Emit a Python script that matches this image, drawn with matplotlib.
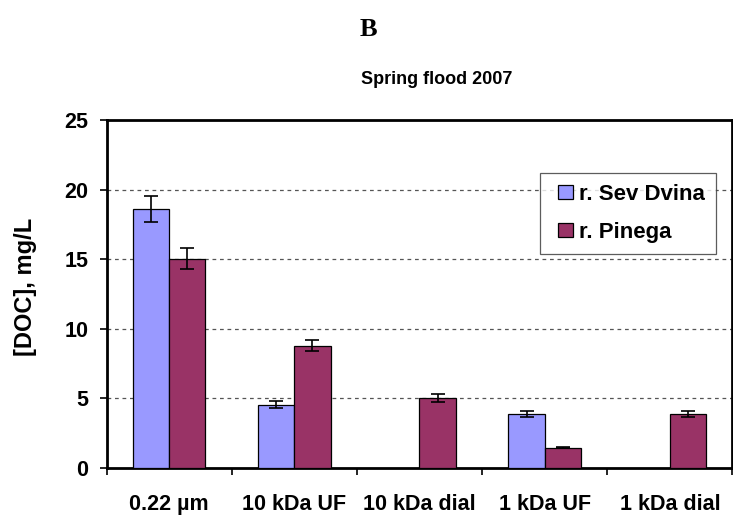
import numpy as np
import matplotlib
matplotlib.use("Agg")
import matplotlib.pyplot as plt
from matplotlib.patches import Rectangle
from matplotlib.legend_handler import HandlerPatch

categorias = ['0.22 µm', '10 kDa UF', '10 kDa dial', '1 kDa UF', '1 kDa dial']
series = ['r. Sev Dvina', 'r. Pinega']
sev_dvina = [18.6, 4.55, np.nan, 3.85, np.nan]
sev_dvina_err = [0.93, 0.27, np.nan, 0.22, np.nan]
pinega = [15.05, 8.8, 5.0, 1.45, 3.85]
pinega_err = [0.73, 0.4, 0.29, 0.04, 0.22]
cores = ['#9999FF', '#993366']

plt.rcParams['font.family'] = ['Liberation Sans', 'DejaVu Sans']
plt.rcParams['font.weight'] = 'bold'


def quadrado(legend, orig_handle, xdescent, ydescent, width, height, fontsize):
    # quadradinho encostado a direita da caixa do handle
    return Rectangle((width - height - xdescent, -ydescent), height, height)


fig = plt.figure(figsize=(7.33, 5.18), dpi=100)
ax = fig.add_axes([0.1453, 0.0965, 0.854, 0.6718])

x = np.arange(len(categorias))
w = 0.29
b1 = ax.bar(x - w / 2, sev_dvina, w, yerr=sev_dvina_err, color=cores[0],
            edgecolor='black', linewidth=0.9, label=series[0], zorder=3,
            error_kw=dict(ecolor='black', elinewidth=1.2, capsize=5, capthick=1.2))
b2 = ax.bar(x + w / 2, pinega, w, yerr=pinega_err, color=cores[1],
            edgecolor='black', linewidth=0.9, label=series[1], zorder=3,
            error_kw=dict(ecolor='black', elinewidth=1.2, capsize=5, capthick=1.2))

ax.set_xlim(-0.5, len(categorias) - 0.5)
ax.set_ylim(0, 25)
ax.set_yticks([0, 5, 10, 15, 20, 25])
ax.set_xticks(x)
ax.set_xticklabels(categorias, fontsize=15.5, fontweight='bold')
ax.set_xticks(np.arange(-0.5, len(categorias)), minor=True)
ax.tick_params(axis='x', which='major', length=0, pad=19)
ax.tick_params(axis='x', which='minor', length=5, width=1.2, direction='out')
ax.tick_params(axis='y', length=5, width=1.2, direction='out', pad=8, labelsize=15.5)
for lbl in ax.get_yticklabels():
    lbl.set_fontweight('bold')

for yv in [5, 10, 15, 20]:
    ax.axhline(yv, color='#555555', linestyle=(0, (3, 3)), linewidth=0.9, zorder=1)

for s in ax.spines.values():
    s.set_linewidth(2)

ax.set_ylabel('[DOC], mg/L', fontsize=17, fontweight='bold')
ax.yaxis.set_label_coords(-0.130, 0.52)
ax.yaxis.label.set_va('center')

fig.text(0.503, 0.944, 'B', fontsize=19, fontweight='bold', ha='center', va='center',
         family=['Liberation Serif', 'DejaVu Serif'])
fig.text(0.596, 0.846, 'Spring flood 2007', fontsize=13, fontweight='bold',
         ha='center', va='center')

leg = ax.legend([b1.patches[0], b2.patches[0]], series,
                loc='upper right', bbox_to_anchor=(0.974, 0.848), fontsize=16,
                frameon=True, fancybox=False, handlelength=0.95, handleheight=0.6,
                labelspacing=0.75, handletextpad=0.3, borderpad=0.5, borderaxespad=0,
                handler_map={Rectangle: HandlerPatch(patch_func=quadrado)})
leg.get_frame().set_edgecolor('#333333')
leg.get_frame().set_linewidth(0.9)
for t in leg.get_texts():
    t.set_fontweight('bold')

fig.savefig('out.png', dpi=100)
